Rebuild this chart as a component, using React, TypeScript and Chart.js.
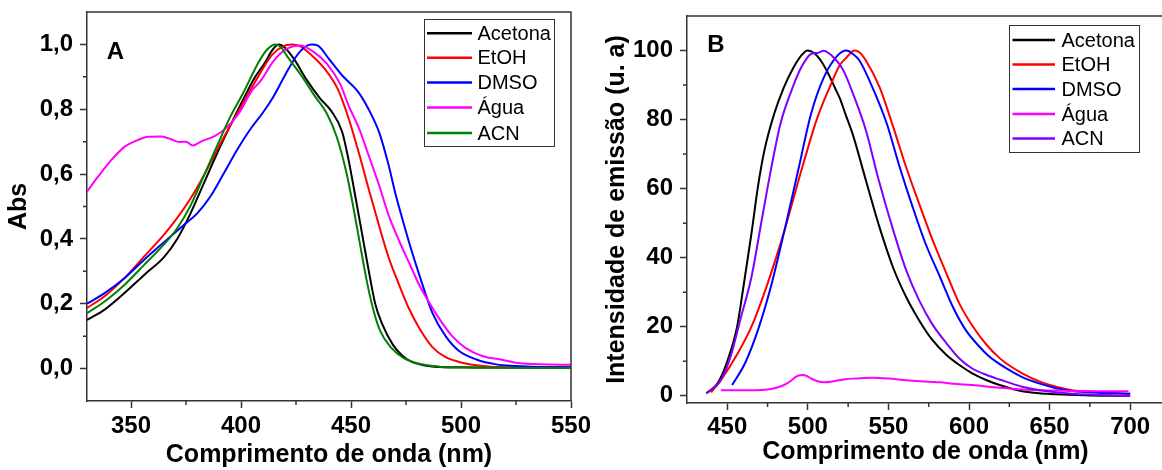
import React, { useEffect, useRef } from 'react';
import { Chart, registerables } from 'chart.js';

Chart.register(...registerables);

const FONT = '"Liberation Sans", Arial, Helvetica, sans-serif';
const AXIS = '#333333';

// ---------- shared ----------
const seriesNames = ['Acetona', 'EtOH', 'DMSO', 'Água', 'ACN'];
const absColors = ['#000000', '#ff0000', '#0000ff', '#ff00ff', '#008000'];
const emColors = ['#000000', '#ff0000', '#0000ff', '#ff00ff', '#8000ff'];

// ---------- Panel A : absorption ----------
const absXTicks = [350, 400, 450, 500, 550];
const absXMinor = [375, 425, 475, 525];
const absYTicks = [0, 0.2, 0.4, 0.6, 0.8, 1.0];
const absYMinor = [0.1, 0.3, 0.5, 0.7, 0.9];

const acetonaAbsNm = [330, 338, 347, 356, 365, 371, 377, 383, 389, 395, 401, 406, 411, 414, 417, 420, 424, 430, 436, 441, 446, 449, 452, 455, 458, 461, 464, 469, 473, 477, 483, 490, 500, 520, 550];
const acetonaAbs = [0.150, 0.182, 0.233, 0.289, 0.344, 0.400, 0.478, 0.570, 0.662, 0.748, 0.830, 0.895, 0.945, 0.980, 1.000, 0.990, 0.956, 0.889, 0.833, 0.795, 0.730, 0.640, 0.530, 0.417, 0.304, 0.200, 0.140, 0.074, 0.042, 0.023, 0.010, 0.005, 0.004, 0.003, 0.003];

const etohAbsNm = [330, 338, 347, 356, 365, 371, 377, 383, 389, 395, 401, 408, 414, 419, 423, 427, 432, 438, 444, 449, 454, 458, 463, 467, 472, 476, 481, 487, 493, 500, 510, 520, 550];
const etohAbs = [0.187, 0.223, 0.279, 0.346, 0.413, 0.465, 0.524, 0.594, 0.673, 0.748, 0.820, 0.903, 0.967, 0.994, 1.000, 0.994, 0.967, 0.925, 0.862, 0.770, 0.655, 0.555, 0.435, 0.345, 0.256, 0.190, 0.125, 0.066, 0.035, 0.019, 0.008, 0.004, 0.003];

const dmsoAbsNm = [330, 338, 347, 356, 365, 374, 380, 386, 392, 398, 404, 410, 415, 420, 425, 429, 432, 435, 440, 446, 453, 458, 463, 467, 470, 473, 477, 481, 487, 493, 499, 507, 516, 525, 535, 550];
const dmsoAbs = [0.200, 0.233, 0.279, 0.336, 0.390, 0.443, 0.478, 0.530, 0.600, 0.672, 0.736, 0.790, 0.842, 0.905, 0.962, 0.992, 1.000, 0.996, 0.955, 0.904, 0.856, 0.800, 0.725, 0.630, 0.545, 0.470, 0.376, 0.290, 0.172, 0.100, 0.055, 0.028, 0.013, 0.008, 0.005, 0.004];

const aguaAbsNm = [330, 335, 341, 347, 352, 358, 364, 368, 372, 375, 378, 382, 388, 393, 399, 405, 409, 415, 421, 427, 433, 439, 445, 449, 454, 458, 463, 467, 472, 477, 481, 485, 490, 496, 502, 510, 518, 525, 536, 550];
const aguaAbs = [0.546, 0.592, 0.643, 0.684, 0.702, 0.715, 0.716, 0.708, 0.699, 0.700, 0.688, 0.701, 0.717, 0.741, 0.787, 0.858, 0.888, 0.951, 0.987, 0.997, 0.977, 0.941, 0.879, 0.810, 0.735, 0.658, 0.561, 0.475, 0.392, 0.318, 0.258, 0.210, 0.155, 0.100, 0.064, 0.038, 0.028, 0.018, 0.013, 0.012];

const acnAbsNm = [330, 338, 347, 356, 365, 371, 377, 383, 389, 395, 401, 408, 412, 415.5, 418, 421, 427, 433, 439, 443.5, 448, 451, 454, 457, 460, 463, 468, 474, 481, 490, 500, 550];
const acnAbs = [0.171, 0.207, 0.258, 0.320, 0.383, 0.433, 0.502, 0.593, 0.685, 0.775, 0.850, 0.945, 0.985, 1.000, 0.993, 0.963, 0.908, 0.846, 0.787, 0.715, 0.602, 0.500, 0.387, 0.276, 0.185, 0.120, 0.066, 0.032, 0.015, 0.006, 0.003, 0.002];

// ---------- Panel B : emission ----------
const emXTicks = [450, 500, 550, 600, 650, 700];
const emXMinor = [475, 525, 575, 625, 675];
const emYTicks = [0, 20, 40, 60, 80, 100];
const emYMinor = [10, 30, 50, 70, 90];

const acetonaEmNm = [437, 444, 450, 456, 460, 465, 469, 473, 479, 485, 491, 496, 500, 504, 508, 513, 517, 520, 523, 528, 536, 544, 553, 561, 569, 577, 586, 594, 602, 611, 619, 633, 654, 675, 700];
const acetonaEm = [0.7, 3.6, 10.0, 19.8, 31.5, 47.0, 60.5, 71.0, 81.5, 89.2, 95.0, 98.6, 100, 99.2, 97.1, 93.0, 89.0, 86.0, 82.0, 75.5, 62.4, 49.5, 37.0, 28.6, 21.9, 16.3, 11.8, 8.9, 6.5, 4.5, 3.1, 1.3, 0.4, 0.1, 0.0];

const etohEmNm = [440, 446, 456.5, 465, 475, 485.5, 496, 506, 514.5, 519.5, 524, 529, 532, 536, 544.5, 553, 561, 569, 577.5, 586, 594, 602.5, 611, 619, 623, 633, 644, 654, 664, 679, 700];
const etohEm = [1.0, 4.5, 12.3, 20.0, 32.5, 47.9, 65.3, 80.7, 90.4, 95.5, 98.0, 100, 99.5, 97.1, 89.4, 77.8, 66.2, 55.7, 45.0, 35.4, 26.7, 20.0, 14.7, 10.9, 9.4, 6.5, 4.1, 2.6, 1.6, 1.1, 0.6];

const dmsoEmNm = [453, 461, 469, 477, 485.5, 494, 502, 510, 518.5, 524, 528, 532, 540, 549, 557, 565, 573, 582, 590, 598, 606.5, 612, 617, 623, 633, 644, 654, 664, 680, 700];
const dmsoEm = [3.1, 9.4, 19.0, 31.5, 47.9, 65.3, 81.7, 92.3, 98.6, 100, 99.0, 97.1, 89.4, 78.8, 66.2, 54.7, 44.1, 34.4, 25.7, 19.0, 14.2, 11.6, 9.8, 8.0, 5.4, 3.5, 2.2, 1.4, 0.9, 0.6];

const aguaEmNm = [446, 465, 475, 481, 486, 490, 493, 497, 499, 502, 506, 510, 516, 523, 530, 540, 550, 561, 570, 582, 590, 602, 619, 633, 654, 675, 699];
const aguaEm = [1.6, 1.6, 1.8, 2.4, 3.3, 4.5, 5.6, 6.0, 5.8, 5.0, 4.2, 3.9, 4.2, 4.8, 5.0, 5.2, 5.0, 4.5, 4.2, 3.9, 3.5, 3.1, 2.3, 1.8, 1.5, 1.3, 1.3];

const acnEmNm = [437, 446, 452, 458, 465, 471, 477, 483, 490, 496, 502, 506, 510, 513, 516, 520, 523, 528, 536, 544, 553, 561, 569, 577, 586, 594, 602, 611, 619, 623, 633, 644, 664, 700];
const acnEm = [0.7, 4.5, 11.3, 21.9, 34.4, 49.9, 65.3, 78.8, 88.6, 95.2, 99.0, 99.3, 99.9, 99.2, 98.0, 95.8, 93.3, 87.5, 76.9, 62.4, 47.9, 36.4, 27.7, 20.9, 15.2, 10.8, 7.9, 6.0, 4.7, 4.1, 2.6, 1.6, 0.6, 0.0];

// ---------- layout specs ----------
type Extras = {
  letter: string; letterX: number; letterY: number;
  box: number[]; rows: number[]; lineX0: number; lineX1: number; textX: number;
  minorX: number[]; minorY: number[];
};

type Panel = {
  xs: number[][]; ys: number[][]; colors: string[];
  xMin: number; xMax: number; yMin: number; yMax: number;
  xTicks: number[]; yTicks: number[]; yFmt: (v: number) => string;
  xTitle: string; yTitle: string;
  yAxisWidth: number; xAxisHeight: number;
  padding: { left: number; top: number; right: number; bottom: number };
  xTickPad: number; xTitlePad: number; yTitlePad: number;
  extras: Extras;
};

const panelA: Panel = {
  xs: [acetonaAbsNm, etohAbsNm, dmsoAbsNm, aguaAbsNm, acnAbsNm],
  ys: [acetonaAbs, etohAbs, dmsoAbs, aguaAbs, acnAbs],
  colors: absColors,
  xMin: 330, xMax: 550, yMin: -0.1, yMax: 1.1,
  xTicks: absXTicks, yTicks: absYTicks,
  yFmt: (v) => v.toFixed(1).replace('.', ','),
  xTitle: 'Comprimento de onda (nm)', yTitle: 'Abs',
  yAxisWidth: 87, xAxisHeight: 69,
  padding: { left: 0, top: 12, right: 29, bottom: 0 },
  xTickPad: 4, xTitlePad: 2, yTitlePad: 7,
  extras: {
    letter: 'A', letterX: 115.5, letterY: 52,
    box: [424, 19, 130, 127], rows: [33.3, 57.8, 82.5, 107.5, 133],
    lineX0: 427, lineX1: 472, textX: 477.5,
    minorX: absXMinor, minorY: absYMinor,
  },
};

const panelB: Panel = {
  xs: [acetonaEmNm, etohEmNm, dmsoEmNm, aguaEmNm, acnEmNm],
  ys: [acetonaEm, etohEm, dmsoEm, aguaEm, acnEm],
  colors: emColors,
  xMin: 425, xMax: 721, yMin: -2.1, yMax: 110,
  xTicks: emXTicks, yTicks: emYTicks,
  yFmt: (v) => String(Math.round(v)),
  xTitle: 'Comprimento de onda (nm)', yTitle: 'Intensidade de emissão (u. a)',
  yAxisWidth: 107, xAxisHeight: 67,
  padding: { left: 0, top: 16, right: 0, bottom: 0 },
  xTickPad: 3, xTitlePad: 5.5, yTitlePad: 24.5,
  extras: {
    letter: 'B', letterX: 136, letterY: 45.5,
    box: [428.5, 25, 130, 127], rows: [40, 64.5, 89, 114, 138.5],
    lineX0: 432.5, lineX1: 475, textX: 481.5,
    minorX: emXMinor, minorY: emYMinor,
  },
};

function extrasPlugin(e: Extras) {
  return {
    id: 'extras',
    afterDraw(chart: any) {
      const { ctx, chartArea: a, scales } = chart;
      ctx.save();
      ctx.strokeStyle = AXIS;
      ctx.lineWidth = 1.5;
      ctx.beginPath();
      ctx.moveTo(a.left, a.top);
      ctx.lineTo(a.right, a.top);
      ctx.lineTo(a.right, a.bottom);
      ctx.stroke();
      ctx.beginPath();
      e.minorX.forEach((v) => {
        const px = scales.x.getPixelForValue(v);
        ctx.moveTo(px, a.bottom);
        ctx.lineTo(px, a.bottom + 4);
      });
      e.minorY.forEach((v) => {
        const py = scales.y.getPixelForValue(v);
        ctx.moveTo(a.left - 4, py);
        ctx.lineTo(a.left, py);
      });
      ctx.stroke();

      ctx.fillStyle = '#000';
      ctx.font = `bold 24px ${FONT}`;
      ctx.textAlign = 'center';
      ctx.textBaseline = 'middle';
      ctx.fillText(e.letter, e.letterX, e.letterY);

      const [bx, by, bw, bh] = e.box;
      ctx.fillStyle = '#ffffff';
      ctx.fillRect(bx, by, bw, bh);
      ctx.strokeStyle = '#333333';
      ctx.lineWidth = 1;
      ctx.strokeRect(Math.round(bx) + 0.5, Math.round(by) + 0.5, bw, bh);
      ctx.font = `20px ${FONT}`;
      ctx.textAlign = 'left';
      chart.data.datasets.forEach((ds: any, i: number) => {
        const y = e.rows[i];
        ctx.strokeStyle = ds.borderColor;
        ctx.lineWidth = 2.5;
        ctx.beginPath();
        ctx.moveTo(e.lineX0, y);
        ctx.lineTo(e.lineX1, y);
        ctx.stroke();
        ctx.fillStyle = '#000';
        ctx.fillText(ds.label, e.textX, y + 1);
      });
      ctx.restore();
    },
  };
}

function zeroPad(s: any) {
  s.paddingLeft = 0; s.paddingRight = 0; s.paddingTop = 0; s.paddingBottom = 0;
}

function buildConfig(p: Panel): any {
  const n = seriesNames.length;
  const datasets = seriesNames.map((name, i) => ({
    label: name,
    data: p.xs[i].map((x, j) => ({ x, y: p.ys[i][j] })),
    borderColor: p.colors[i],
    backgroundColor: p.colors[i],
    borderWidth: 2,
    pointRadius: 0,
    fill: false,
    cubicInterpolationMode: 'monotone',
    order: n - 1 - i,
  }));
  const tickFont = { family: FONT, size: 24, weight: 'bold' };
  const titleFont = { family: FONT, size: 25, weight: 'bold', lineHeight: 1 };
  return {
    type: 'line',
    data: { datasets },
    options: {
      responsive: false,
      animation: false,
      devicePixelRatio: 1,
      layout: { padding: p.padding },
      plugins: { legend: { display: false }, tooltip: { enabled: false }, title: { display: false } },
      scales: {
        x: {
          type: 'linear', min: p.xMin, max: p.xMax,
          afterBuildTicks: (s: any) => { s.ticks = p.xTicks.map((v) => ({ value: v })); },
          afterFit: (s: any) => { s.height = p.xAxisHeight; zeroPad(s); },
          ticks: { font: tickFont, color: '#000', padding: p.xTickPad, maxRotation: 0, autoSkip: false, callback: (v: any) => String(v) },
          grid: { display: true, drawOnChartArea: false, drawTicks: true, tickLength: 7, tickColor: AXIS, tickWidth: 1.5 },
          border: { display: true, color: AXIS, width: 1.5 },
          title: { display: true, text: p.xTitle, font: titleFont, color: '#000', padding: { top: 0, bottom: p.xTitlePad } },
        },
        y: {
          type: 'linear', min: p.yMin, max: p.yMax,
          afterBuildTicks: (s: any) => { s.ticks = p.yTicks.map((v) => ({ value: v })); },
          afterFit: (s: any) => { s.width = p.yAxisWidth; zeroPad(s); },
          ticks: { font: tickFont, color: '#000', padding: 7, autoSkip: false, callback: (v: any) => p.yFmt(Number(v)) },
          grid: { display: true, drawOnChartArea: false, drawTicks: true, tickLength: 7, tickColor: AXIS, tickWidth: 1.5 },
          border: { display: true, color: AXIS, width: 1.5 },
          title: { display: true, text: p.yTitle, font: titleFont, color: '#000', padding: { top: p.yTitlePad, bottom: 0 } },
        },
      },
    },
    plugins: [extrasPlugin(p.extras)],
  };
}

export default function App() {
  const refA = useRef<HTMLCanvasElement>(null);
  const refB = useRef<HTMLCanvasElement>(null);
  useEffect(() => {
    const a = new Chart(refA.current as HTMLCanvasElement, buildConfig(panelA));
    const b = new Chart(refB.current as HTMLCanvasElement, buildConfig(panelB));
    return () => { a.destroy(); b.destroy(); };
  }, []);
  return (
    <div style={{ position: 'fixed', left: 0, top: 0, width: 1162, height: 470, overflow: 'hidden', background: '#ffffff' }}>
      <canvas ref={refA} width={600} height={470} style={{ position: 'absolute', left: 0, top: 0, width: 600, height: 470 }} />
      <canvas ref={refB} width={584} height={470} style={{ position: 'absolute', left: 580, top: 0, width: 584, height: 470 }} />
    </div>
  );
}
